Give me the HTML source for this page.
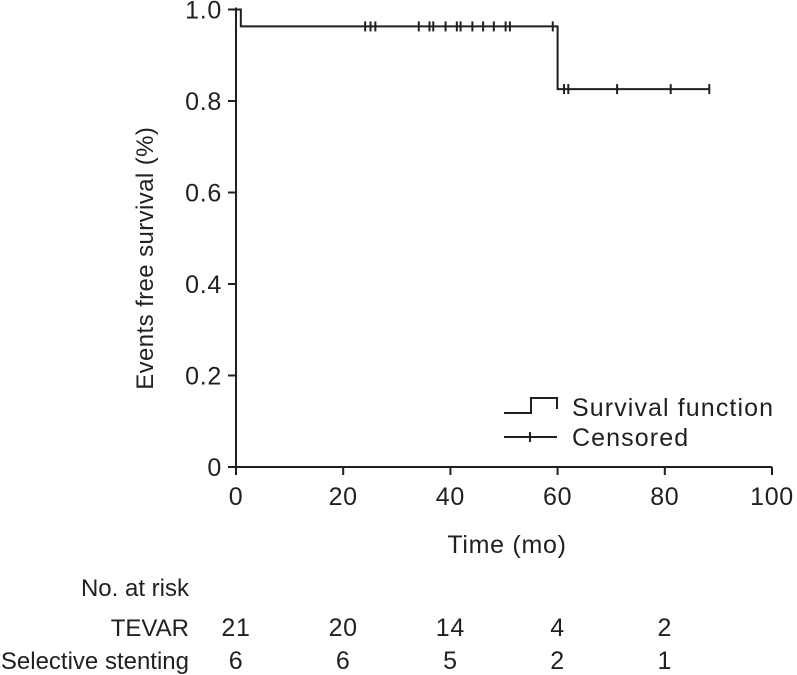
<!DOCTYPE html>
<html><head><meta charset="utf-8"><style>
body{margin:0;background:#fff;}
svg{display:block;font-family:"Liberation Sans",Arial,sans-serif;fill:#231f20;}
</style></head><body>
<svg id="c" width="797" height="675" viewBox="0 0 797 675"></svg>
<script>
const times=[0,0.9,60,88.3];
const survival=[1.0,0.963,0.826,0.826];
const censorUpper=[24.1,25.1,26,34.1,36.1,36.8,39.1,41.2,41.9,44.1,46.1,48.1,50.3,51.1,59.1];
const censorLower=[61.2,62,71.1,81.1,88.3];
const xTicks=[0,20,40,60,80,100];
const yTicks=[0,0.2,0.4,0.6,0.8,1.0];
const yTickLabels=["0","0.2","0.4","0.6","0.8","1.0"];
const riskTimes=[0,20,40,60,80];
const riskTevar=[21,20,14,4,2];
const riskSelective=[6,6,5,2,1];

const svg=document.getElementById('c');
const NS='http://www.w3.org/2000/svg';
const X=t=>236+t*5.36;
const Y=v=>467-v*457.5;
function mk(tag,attrs,parent){const e=document.createElementNS(NS,tag);for(const k in attrs)e.setAttribute(k,attrs[k]);(parent||svg).appendChild(e);return e;}
function txt(s,x,y,anchor,size,name,ls){const e=mk('text',{x:x,y:y,'text-anchor':anchor,'font-size':size,'letter-spacing':ls===undefined?0.7:ls});e.textContent=s;


return e;}
const st={stroke:'#231f20','stroke-width':2,fill:'none'};
const ax=mk('path',Object.assign({d:`M${X(0)} ${Y(1)-2}V${Y(0)}H${X(100)}`},st));


yTicks.forEach((v,i)=>{
 const t=mk('line',Object.assign({x1:X(0)-8,x2:X(0),y1:Y(v),y2:Y(v)},st));
 
 
 txt(yTickLabels[i],X(0)-14,Y(v)+9,'end',25,'y-tick-label');
});
xTicks.forEach(v=>{
 const t=mk('line',Object.assign({x1:X(v),x2:X(v),y1:Y(0),y2:Y(0)+8},st));
 
 
 txt(String(v),X(v),Y(0)+38,'middle',25,'x-tick-label');
});
const yt=txt('Events free survival (%)',0,0,'middle',24,'y-axis-title',0.4);
yt.setAttribute('transform',`translate(153,${Y(0.5)+20}) rotate(-90)`);
txt('Time (mo)',507,553,'middle',25,'x-axis-title');
let d=`M${X(times[0])} ${Y(survival[0])}`;
for(let i=1;i<times.length;i++){d+=`H${X(times[i])}V${Y(survival[i])}`;}
const c=mk('path',Object.assign({d:d},st));


censorUpper.forEach(t=>{const l=mk('line',Object.assign({x1:X(t),x2:X(t),y1:Y(survival[1])-5,y2:Y(survival[1])+5},st));

});
censorLower.forEach(t=>{const l=mk('line',Object.assign({x1:X(t),x2:X(t),y1:Y(survival[2])-5,y2:Y(survival[2])+5},st));

});
const l1=mk('path',Object.assign({d:'M504 413H531V398H557V409'},st));


txt('Survival function',572,416,'start',25,'legend-survival-label',1.1);
const l2=mk('path',Object.assign({d:'M504 437H557M530 432V442'},st));


txt('Censored',572,446,'start',25,'legend-censored-label',1.1);
txt('No. at risk',189,596,'end',24,'risk-table-title',0);
txt('TEVAR',189,636,'end',24,'risk-row-tevar-label',0);
txt('Selective stenting',189,669,'end',24,'risk-row-selective-label',0);
riskTimes.forEach((t,i)=>{
 txt(String(riskTevar[i]),X(t),636,'middle',25,'risk-tevar-value');
 txt(String(riskSelective[i]),X(t),669,'middle',25,'risk-selective-value');
});
</script>
</body></html>
